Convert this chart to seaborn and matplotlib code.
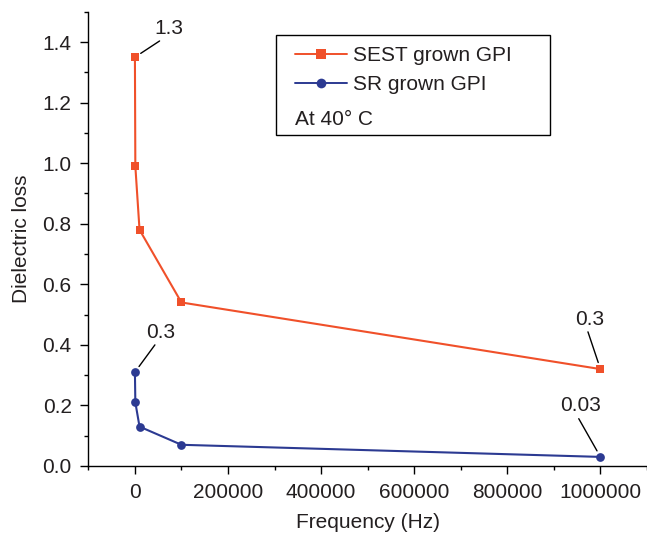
import matplotlib
matplotlib.use("Agg")
import matplotlib.pyplot as plt
import seaborn as sns
import pandas as pd
from matplotlib.patches import Rectangle
from matplotlib.ticker import MultipleLocator, FuncFormatter

# Dielectric loss vs. frequency at 40 °C
frequency_hz = [100, 1000, 10000, 100000, 1000000]
sest_loss = [1.35, 0.99, 0.78, 0.54, 0.32]
sr_loss = [0.31, 0.21, 0.13, 0.07, 0.03]
series_names = ["SEST grown GPI", "SR grown GPI"]
series_colors = ["#F0502A", "#2C3A92"]
series_markers = ["s", "o"]

# value callouts: (series index, point index, text, offset in pixels)
callouts = [
    (0, 0, "1.3", (34, 29)),
    (1, 0, "0.3", (26, 40)),
    (0, 4, "0.3", (-11, 50)),
    (1, 4, "0.03", (-20, 51)),
]

df = pd.concat([
    pd.DataFrame({"Frequency (Hz)": frequency_hz, "Dielectric loss": sest_loss,
                  "series": series_names[0]}),
    pd.DataFrame({"Frequency (Hz)": frequency_hz, "Dielectric loss": sr_loss,
                  "series": series_names[1]}),
])

sns.set_theme(style="ticks")
plt.rcParams["font.family"] = ["Liberation Sans", "DejaVu Sans"]
text_color = "#231F20"
fs = 15

fig = plt.figure(figsize=(6.47, 5.35), dpi=100)
ax = fig.add_axes([0.1365, 0.129, 0.8635, 0.849])

sns.lineplot(data=df, x="Frequency (Hz)", y="Dielectric loss", hue="series",
             style="series", hue_order=series_names, style_order=series_names,
             palette=series_colors, markers=series_markers, dashes=False,
             markersize=6.3, markeredgewidth=0, linewidth=1.5, sort=False,
             legend=False, ax=ax)

ax.set_xlim(-100000, 1100000)
ax.set_ylim(0, 1.5)
ax.xaxis.set_major_locator(MultipleLocator(200000))
ax.xaxis.set_minor_locator(MultipleLocator(100000))
ax.yaxis.set_major_locator(MultipleLocator(0.2))
ax.yaxis.set_minor_locator(MultipleLocator(0.1))
ax.xaxis.set_major_formatter(FuncFormatter(lambda v, p: f"{v:.0f}"))
ax.yaxis.set_major_formatter(FuncFormatter(lambda v, p: f"{v:.1f}"))

for side in ("top", "right"):
    ax.spines[side].set_visible(False)
for side in ("left", "bottom"):
    ax.spines[side].set_color("black")
    ax.spines[side].set_linewidth(1.0)

ax.tick_params(which="major", direction="out", length=5.5, width=1.0,
               colors="black", labelcolor=text_color, labelsize=fs, pad=6.5)
ax.tick_params(which="minor", direction="out", length=3, width=1.0, colors="black")

ax.set_xlabel("Frequency (Hz)", fontsize=fs, color=text_color, labelpad=8)
ax.set_ylabel("Dielectric loss", fontsize=fs, color=text_color, labelpad=8)

values = [sest_loss, sr_loss]
for si, pi, label, (dx, dy) in callouts:
    ax.annotate(label, xy=(frequency_hz[pi], values[si][pi]),
                xytext=(dx, dy), textcoords="offset pixels",
                ha="center", va="center", fontsize=fs, color=text_color,
                arrowprops=dict(arrowstyle="-", color="black", lw=1.0,
                                relpos=(0.4, 0.05), shrinkA=0, shrinkB=5))

# legend box with series entries and the temperature note
ax.add_patch(Rectangle((0.3354, 0.7286), 0.491, 0.2201, transform=ax.transAxes,
                       facecolor="white", edgecolor="black", lw=1.0, zorder=5))
handles = [
    plt.Line2D([], [], color=series_colors[0], marker=series_markers[0],
               markersize=7, markeredgewidth=0, lw=1.4),
    plt.Line2D([], [], color=series_colors[1], marker=series_markers[1],
               markersize=7, markeredgewidth=0, lw=1.4),
]
leg = ax.legend(handles, series_names, loc="center left",
                bbox_to_anchor=(0.370, 0.8717), frameon=False, fontsize=fs,
                handlelength=2.5, handletextpad=0.29, labelspacing=0.5,
                borderpad=0, borderaxespad=0)
for t in leg.get_texts():
    t.set_color(text_color)
leg.set_zorder(6)
ax.text(0.370, 0.7638, "At 40\u00b0 C", transform=ax.transAxes, fontsize=fs,
        color=text_color, ha="left", va="center", zorder=6)

fig.savefig("out.png", dpi=100)
